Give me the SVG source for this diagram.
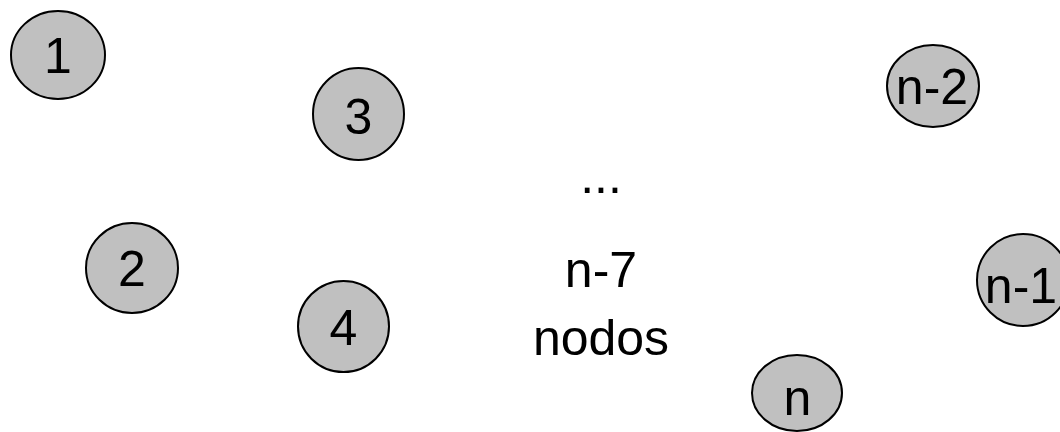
<svg xmlns="http://www.w3.org/2000/svg" width="1060" height="432" viewBox="0 0 1060 432">
  <style>
    .node ellipse { fill: #c0c0c0; stroke: #000000; stroke-width: 2; }
    .label { font-family: "Liberation Sans", Arial, sans-serif; font-size: 50px; fill: #000000; text-anchor: middle; }
  </style>
  <rect width="1060" height="432" fill="#ffffff"/>
  <g id="connectors"></g>
  <g id="node-1" class="node">
    <ellipse cx="58" cy="55" rx="47" ry="44"/>
    <text class="label" x="58" y="73">1</text>
  </g>
  <g id="node-2" class="node">
    <ellipse cx="132" cy="268" rx="46" ry="45"/>
    <text class="label" x="132" y="286">2</text>
  </g>
  <g id="node-3" class="node">
    <ellipse cx="358.5" cy="114" rx="45.5" ry="46"/>
    <text class="label" x="358.5" y="134">3</text>
  </g>
  <g id="node-4" class="node">
    <ellipse cx="343.5" cy="326.5" rx="45.5" ry="45.5"/>
    <text class="label" x="343.5" y="345">4</text>
  </g>
  <g id="node-n-2" class="node">
    <ellipse cx="933" cy="86" rx="46" ry="41"/>
    <text class="label" x="932" y="104">n-2</text>
  </g>
  <g id="node-n-1" class="node">
    <ellipse cx="1023" cy="280" rx="46" ry="46"/>
    <text class="label" x="1021" y="303">n-1</text>
  </g>
  <g id="node-n" class="node">
    <ellipse cx="797" cy="393" rx="45" ry="38"/>
    <text class="label" x="797.5" y="415">n</text>
  </g>
  <g id="middle-note">
    <text class="label" x="601" y="193">...</text>
    <text class="label" x="601" y="287">n-7</text>
    <text class="label" x="601" y="355">nodos</text>
  </g>
</svg>
